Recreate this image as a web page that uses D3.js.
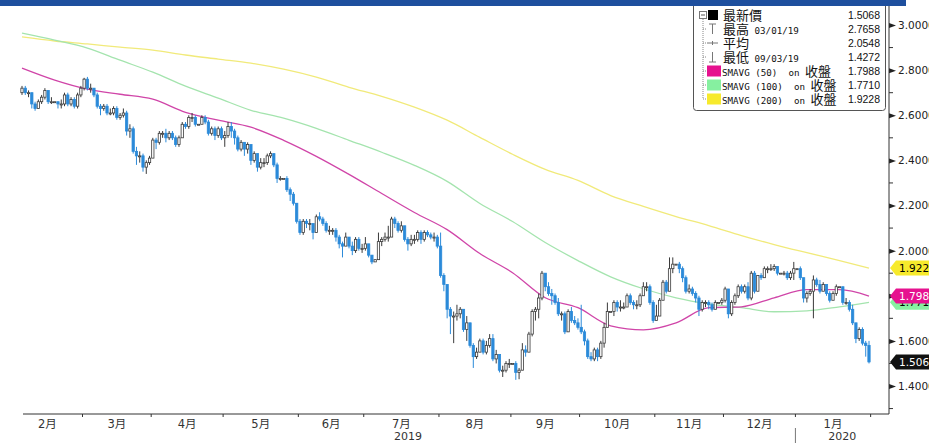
<!DOCTYPE html>
<html>
<head>
<meta charset="utf-8">
<script src="https://cdn.jsdelivr.net/npm/d3@7"></script>
<style>
    body { margin: 0; background: #fff; overflow: hidden; }
    svg { display: block; }
</style>
</head>
<body>
<svg id="chart" width="929" height="443"></svg>
<script>
// daily candles, one entry per weekday from 2019-02-04 to 2020-01-31 (Feb ... Jan, one line per month)
const open = [
    2.70,2.72,2.70,2.70,2.65,2.63,2.66,2.68,2.71,2.66,2.66,2.66,2.65,2.65,2.69,2.65,2.67,2.64,2.69,
    2.72,2.76,2.72,2.72,2.69,2.64,2.63,2.64,2.61,2.61,2.63,2.59,2.60,2.61,2.53,2.54,2.44,2.42,2.42,2.37,2.39,
    2.41,2.49,2.48,2.52,2.52,2.50,2.52,2.50,2.47,2.50,2.56,2.55,2.59,2.59,2.56,2.56,2.59,2.57,2.52,2.54,2.51,2.54,
    2.50,2.51,2.55,2.53,2.50,2.45,2.48,2.45,2.47,2.40,2.43,2.37,2.39,2.39,2.42,2.43,2.38,2.32,2.32,2.32,2.27,2.25,2.21,
    2.13,2.08,2.13,2.12,2.12,2.08,2.15,2.14,2.12,2.09,2.09,2.09,2.06,2.03,2.02,2.06,2.02,2.00,2.05,2.01,
    2.01,2.03,1.98,1.95,1.96,2.04,2.05,2.06,2.06,2.14,2.12,2.09,2.11,2.05,2.03,2.05,2.05,2.08,2.05,2.08,2.07,2.06,2.06,
    2.02,1.89,1.85,1.74,1.71,1.71,1.72,1.74,1.65,1.68,1.58,1.53,1.55,1.60,1.55,1.58,1.61,1.52,1.54,1.47,1.47,1.50,
    1.50,1.50,1.46,1.47,1.56,1.55,1.63,1.73,1.74,1.79,1.90,1.84,1.81,1.80,1.77,1.72,1.72,1.64,1.73,1.69,1.68,
    1.66,1.64,1.60,1.53,1.52,1.56,1.53,1.59,1.66,1.73,1.73,1.77,1.75,1.75,1.75,1.80,1.77,1.76,1.76,1.80,1.84,1.84,1.77,
    1.69,1.71,1.78,1.86,1.82,1.92,1.94,1.94,1.92,1.88,1.82,1.83,1.81,1.79,1.74,1.77,1.77,1.76,1.74,1.77,1.77,
    1.78,1.83,1.72,1.77,1.80,1.84,1.82,1.84,1.79,1.90,1.82,1.89,1.88,1.92,1.92,1.92,1.93,1.90,1.90,1.90,1.88,1.90,
    1.92,1.92,1.88,1.79,1.81,1.82,1.87,1.85,1.82,1.85,1.81,1.78,1.81,1.84,1.84,1.77,1.77,1.74,1.68,1.61,1.65,1.59,1.58
]
const high = [
    2.73,2.73,2.71,2.70,2.66,2.67,2.69,2.72,2.71,2.68,2.66,2.66,2.67,2.70,2.70,2.68,2.68,2.70,2.73,
    2.7658,2.77,2.74,2.72,2.70,2.65,2.65,2.65,2.63,2.64,2.64,2.61,2.63,2.62,2.56,2.55,2.46,2.44,2.43,2.40,2.42,
    2.50,2.50,2.53,2.53,2.54,2.53,2.53,2.51,2.51,2.57,2.57,2.60,2.61,2.60,2.56,2.60,2.60,2.58,2.55,2.55,2.55,2.55,
    2.53,2.57,2.57,2.54,2.51,2.49,2.48,2.48,2.47,2.44,2.43,2.41,2.41,2.43,2.44,2.43,2.39,2.33,2.32,2.33,2.28,2.26,2.21,
    2.14,2.14,2.14,2.14,2.12,2.16,2.17,2.15,2.13,2.11,2.10,2.10,2.07,2.04,2.08,2.06,2.04,2.06,2.06,2.03,
    2.06,2.03,1.98,1.96,2.08,2.06,2.08,2.11,2.15,2.15,2.13,2.13,2.11,2.06,2.07,2.07,2.09,2.09,2.09,2.09,2.08,2.08,2.07,
    2.08,1.90,1.85,1.75,1.73,1.76,1.75,1.74,1.71,1.68,1.59,1.57,1.61,1.61,1.60,1.63,1.63,1.56,1.54,1.49,1.51,1.52,
    1.50,1.51,1.48,1.59,1.58,1.64,1.74,1.75,1.81,1.91,1.90,1.86,1.83,1.81,1.79,1.73,1.73,1.74,1.75,1.71,1.70,
    1.76,1.65,1.61,1.55,1.57,1.57,1.60,1.68,1.77,1.73,1.78,1.78,1.78,1.77,1.81,1.81,1.78,1.78,1.81,1.86,1.86,1.85,1.78,
    1.76,1.79,1.87,1.87,1.97,1.97,1.94,1.95,1.93,1.89,1.85,1.84,1.82,1.80,1.78,1.78,1.78,1.77,1.78,1.77,1.79,
    1.84,1.83,1.78,1.81,1.85,1.85,1.85,1.86,1.91,1.91,1.89,1.90,1.93,1.93,1.94,1.94,1.93,1.90,1.91,1.91,1.91,1.95,
    1.92,1.93,1.88,1.82,1.83,1.89,1.88,1.87,1.86,1.85,1.82,1.82,1.85,1.84,1.84,1.79,1.78,1.76,1.68,1.66,1.66,1.60,1.60
]
const low = [
    2.69,2.69,2.68,2.63,2.62,2.63,2.65,2.67,2.65,2.65,2.66,2.63,2.63,2.64,2.64,2.64,2.63,2.63,2.68,
    2.71,2.71,2.70,2.68,2.63,2.60,2.62,2.60,2.60,2.60,2.58,2.58,2.59,2.51,2.50,2.43,2.38,2.39,2.35,2.34,2.38,
    2.41,2.45,2.47,2.50,2.48,2.49,2.49,2.46,2.46,2.50,2.54,2.54,2.57,2.55,2.56,2.56,2.56,2.51,2.51,2.49,2.50,2.49,
    2.46,2.50,2.50,2.47,2.44,2.44,2.42,2.43,2.38,2.39,2.35,2.36,2.37,2.38,2.41,2.37,2.30,2.31,2.32,2.26,2.22,2.20,2.12,
    2.07,2.07,2.10,2.09,2.05,2.08,2.13,2.11,2.08,2.07,2.07,2.04,2.01,1.97,2.02,2.01,1.98,1.99,2.00,1.99,
    2.00,1.97,1.94,1.95,1.96,2.02,2.04,2.04,2.06,2.10,2.08,2.08,2.04,2.00,2.02,2.03,2.04,2.03,2.04,2.06,2.05,2.04,2.01,
    1.88,1.82,1.70,1.63,1.59,1.69,1.70,1.64,1.60,1.57,1.48,1.52,1.55,1.54,1.54,1.57,1.51,1.50,1.46,1.44,1.46,1.48,
    1.50,1.4272,1.43,1.47,1.53,1.55,1.62,1.69,1.70,1.78,1.82,1.80,1.76,1.76,1.71,1.69,1.63,1.64,1.68,1.67,1.65,
    1.63,1.58,1.52,1.51,1.51,1.51,1.52,1.57,1.66,1.73,1.71,1.73,1.73,1.74,1.75,1.76,1.74,1.74,1.75,1.80,1.82,1.76,1.68,
    1.69,1.71,1.78,1.81,1.82,1.90,1.94,1.90,1.86,1.81,1.81,1.80,1.77,1.71,1.73,1.75,1.74,1.73,1.74,1.77,1.76,
    1.77,1.70,1.71,1.76,1.79,1.81,1.81,1.78,1.78,1.81,1.82,1.87,1.88,1.90,1.91,1.91,1.89,1.90,1.89,1.87,1.87,1.87,
    1.92,1.87,1.77,1.77,1.80,1.70,1.84,1.81,1.82,1.80,1.77,1.78,1.80,1.84,1.76,1.76,1.73,1.67,1.59,1.60,1.58,1.53,1.50
]
const close = [
    2.72,2.70,2.70,2.65,2.63,2.66,2.68,2.71,2.66,2.66,2.66,2.65,2.65,2.69,2.65,2.67,2.64,2.69,2.72,
    2.76,2.72,2.72,2.69,2.64,2.63,2.64,2.61,2.61,2.63,2.59,2.60,2.61,2.53,2.54,2.44,2.42,2.42,2.37,2.39,2.41,
    2.49,2.48,2.52,2.52,2.50,2.52,2.50,2.47,2.50,2.56,2.55,2.59,2.59,2.56,2.56,2.59,2.57,2.52,2.54,2.51,2.54,2.50,
    2.51,2.55,2.53,2.50,2.45,2.48,2.45,2.47,2.40,2.43,2.37,2.39,2.39,2.42,2.43,2.38,2.32,2.32,2.32,2.27,2.25,2.21,2.13,
    2.08,2.13,2.12,2.12,2.08,2.15,2.14,2.12,2.09,2.09,2.09,2.06,2.03,2.02,2.06,2.02,2.00,2.05,2.01,2.01,
    2.03,1.98,1.95,1.96,2.04,2.05,2.06,2.06,2.14,2.12,2.09,2.11,2.05,2.03,2.05,2.05,2.08,2.05,2.08,2.07,2.06,2.06,2.02,
    1.89,1.85,1.74,1.71,1.71,1.72,1.74,1.65,1.68,1.58,1.53,1.55,1.60,1.55,1.58,1.61,1.52,1.54,1.47,1.47,1.50,1.50,
    1.50,1.46,1.47,1.56,1.55,1.63,1.73,1.74,1.79,1.90,1.84,1.81,1.80,1.77,1.72,1.72,1.64,1.73,1.69,1.68,1.66,
    1.64,1.60,1.53,1.52,1.56,1.53,1.59,1.66,1.73,1.73,1.77,1.75,1.75,1.75,1.80,1.77,1.76,1.76,1.80,1.84,1.84,1.77,1.69,
    1.71,1.78,1.86,1.82,1.92,1.94,1.94,1.92,1.88,1.82,1.83,1.81,1.79,1.74,1.77,1.77,1.76,1.74,1.77,1.77,1.78,
    1.83,1.72,1.77,1.80,1.84,1.82,1.84,1.79,1.90,1.82,1.89,1.88,1.92,1.92,1.92,1.93,1.90,1.90,1.90,1.88,1.90,1.92,
    1.92,1.88,1.79,1.81,1.82,1.87,1.85,1.82,1.85,1.81,1.78,1.81,1.84,1.84,1.77,1.77,1.74,1.68,1.61,1.65,1.59,1.58,1.5068
]

const maIndex = [0,10,20,30,40,50,60,70,80,90,100,110,120,130,140,150,160,170,180,190,200,210,220,230,240,250,259]
const sma50 = [2.809,2.756,2.716,2.693,2.671,2.613,2.578,2.547,2.489,2.418,2.338,2.253,2.169,2.093,1.987,1.902,1.791,1.747,1.667,1.649,1.680,1.747,1.751,1.791,1.827,1.827,1.7988]
const sma100 = [2.964,2.933,2.898,2.844,2.791,2.729,2.676,2.622,2.587,2.542,2.489,2.436,2.378,2.307,2.209,2.129,2.036,1.956,1.884,1.831,1.791,1.764,1.747,1.729,1.733,1.751,1.7710]
const sma200 = [2.947,2.929,2.916,2.902,2.889,2.867,2.849,2.831,2.804,2.769,2.724,2.684,2.636,2.578,2.502,2.427,2.360,2.311,2.244,2.196,2.151,2.111,2.067,2.027,1.991,1.956,1.9228]

const yTicks = [1.4, 1.6, 1.8, 2.0, 2.2, 2.4, 2.6, 2.8, 3.0]
const yMinorTicks = [1.3, 1.5, 1.7, 1.9, 2.1, 2.3, 2.5, 2.7, 2.9]
const monthNames = ["2月","3月","4月","5月","6月","7月","8月","9月","10月","11月","12月","1月"]

const legendLabels = ["最新價", "最高 03/01/19", "平均", "最低 09/03/19",
    "SMAVG (50)  on 收盤", "SMAVG (100)  on 收盤", "SMAVG (200)  on 收盤"]
const legendValues = ["1.5068", "2.7658", "2.0548", "1.4272", "1.7988", "1.7710", "1.9228"]

// colours
const UP_STROKE = "#3a3a3a", DOWN_FILL = "#2b8ad9"
const MA_LINE = {sma50: "#d045a8", sma100: "#a4e4ae", sma200: "#f1ea7a"}
const MA_SWATCH = {sma50: "#e6128f", sma100: "#86f0a0", sma200: "#f7ea2c"}
const LATIN = "'DejaVu Sans', sans-serif"
const MONO = "'DejaVu Sans Mono', monospace"
const CJK = "'Noto Sans CJK TC', 'Noto Sans CJK SC', sans-serif"

const svg = d3.select("#chart")

// sessions: weekdays
const days = d3.timeDay.range(new Date(2019, 1, 4), new Date(2020, 1, 1)).filter(d => d.getDay() % 6 !== 0)

// scales
const x = d3.scaleLinear().domain([0, close.length - 1]).range([22, 869])
const step = x(1) - x(0)
const y = d3.scaleLinear().domain([1.4, 3.0]).range([386, 25])

const AXIS_X = 889, AXIS_Y = 414

svg.append("defs").append("clipPath").attr("id", "plot-clip")
    .append("rect").attr("x", 0).attr("y", 6).attr("width", AXIS_X).attr("height", AXIS_Y - 6)

const plot = svg.append("g").attr("clip-path", "url(#plot-clip)")

// moving averages
const maLine = d3.line().x((d, i) => x(maIndex[i])).y(d => y(d)).curve(d3.curveMonotoneX)
;[["sma200", sma200], ["sma100", sma100], ["sma50", sma50]].forEach(([k, vals]) => {
    plot.append("path").datum(vals)
        .attr("d", maLine)
        .attr("fill", "none")
        .attr("stroke", MA_LINE[k])
        .attr("stroke-width", 1.3)
})

// candles
const bw = 2.3
const candle = plot.selectAll("g.candle").data(d3.range(close.length)).join("g").attr("class", "candle")
candle.append("line")
    .attr("x1", i => x(i)).attr("x2", i => x(i))
    .attr("y1", i => y(high[i])).attr("y2", i => y(low[i]))
    .attr("stroke", i => close[i] >= open[i] ? UP_STROKE : DOWN_FILL)
    .attr("stroke-width", 1)
candle.append("rect")
    .attr("x", i => x(i) - bw / 2)
    .attr("y", i => y(Math.max(open[i], close[i])))
    .attr("width", bw)
    .attr("height", i => Math.max(1, Math.abs(y(open[i]) - y(close[i]))))
    .attr("fill", i => close[i] >= open[i] ? "#fff" : DOWN_FILL)
    .attr("stroke", i => close[i] >= open[i] ? UP_STROKE : DOWN_FILL)
    .attr("stroke-width", 0.8)

// right axis
const yAxis = d3.axisRight(y).tickValues(yTicks).tickFormat(d3.format(".4f")).tickSize(0).tickPadding(9)
const gy = svg.append("g").attr("transform", `translate(${AXIS_X},0)`).call(yAxis)
gy.select(".domain").remove()
gy.selectAll("text").attr("font-family", LATIN).attr("font-size", 10.5).attr("fill", "#222")
gy.selectAll(".tick").append("path").attr("d", "M0,-2.5L7,0L0,2.5Z").attr("fill", "#222")
svg.append("g").selectAll("line").data(yMinorTicks).join("line")
    .attr("x1", AXIS_X).attr("x2", AXIS_X + 4)
    .attr("y1", d => y(d)).attr("y2", d => y(d))
    .attr("stroke", "#333")
svg.append("line").attr("x1", AXIS_X).attr("x2", AXIS_X).attr("y1", 6).attr("y2", AXIS_Y)
    .attr("stroke", "#333")

// bottom axis
svg.append("line").attr("x1", 23).attr("x2", AXIS_X).attr("y1", AXIS_Y).attr("y2", AXIS_Y).attr("stroke", "#333")
const monthStarts = d3.range(days.length).filter(i => i === 0 || days[i].getMonth() !== days[i - 1].getMonth())
const bounds = monthStarts.map(i => x(i) - step / 2).concat([x(days.length - 1) + step / 2])
const gx = svg.append("g")
gx.selectAll("line").data(bounds.slice(1)).join("line")
    .attr("x1", d => d).attr("x2", d => d).attr("y1", AXIS_Y).attr("y2", AXIS_Y + 3)
    .attr("stroke", "#333")
gx.selectAll("text").data(monthNames).join("text")
    .attr("x", (d, k) => (bounds[k] + bounds[k + 1]) / 2 - (k === 0 ? 4 : 0))
    .attr("y", 428)
    .attr("text-anchor", "middle")
    .attr("font-family", LATIN + ", " + CJK).attr("font-size", 11.5).attr("fill", "#333")
    .text(d => d)

// years
const yearStart = monthStarts.find(i => days[i].getFullYear() === 2020)
const yearBound = x(yearStart) - step / 2
const years = [{label: "2019", x0: bounds[0], x1: yearBound}, {label: "2020", x0: yearBound, x1: AXIS_X}]
gx.append("line").attr("x1", yearBound).attr("x2", yearBound).attr("y1", 428).attr("y2", 443)
    .attr("stroke", "#777")
gx.selectAll("text.year").data(years).join("text").attr("class", "year")
    .attr("x", d => (d.x0 + d.x1) / 2).attr("y", 440)
    .attr("text-anchor", "middle")
    .attr("font-family", LATIN).attr("font-size", 11).attr("fill", "#333")
    .text(d => d.label)

// price tags on the right axis
const tags = [
    {v: sma100[sma100.length - 1], fill: MA_SWATCH.sma100, text: "#000"},
    {v: sma200[sma200.length - 1], fill: MA_SWATCH.sma200, text: "#000"},
    {v: sma50[sma50.length - 1], fill: MA_SWATCH.sma50, text: "#fff"},
    {v: close[close.length - 1], fill: "#111", text: "#fff"},
]
const tag = svg.append("g").selectAll("g").data(tags).join("g")
    .attr("transform", d => `translate(${AXIS_X + 1},${y(d.v)})`)
tag.append("path").attr("d", "M0,0L6,-7.5L45,-7.5L45,7.5L6,7.5Z").attr("fill", d => d.fill)
tag.append("text").attr("x", 9).attr("y", 4)
    .attr("font-family", LATIN).attr("font-size", 10.5).attr("fill", d => d.text)
    .text(d => d3.format(".4f")(d.v))

// legend
const lg = svg.append("g")
lg.append("rect").attr("x", 693.5).attr("y", -4).attr("width", 192).attr("height", 114.5)
    .attr("rx", 3).attr("fill", "#fff").attr("stroke", "#555")
const rowY = k => 15 + k * 14
lg.append("line").attr("x1", 703).attr("x2", 703).attr("y1", 19).attr("y2", rowY(6))
    .attr("stroke", "#888").attr("stroke-dasharray", "1,1")
lg.selectAll("line.branch").data(d3.range(1, 7)).join("line").attr("class", "branch")
    .attr("x1", 703).attr("x2", 707).attr("y1", rowY).attr("y2", rowY)
    .attr("stroke", "#888").attr("stroke-dasharray", "1,1")
lg.append("rect").attr("x", 699.5).attr("y", 11.5).attr("width", 7).attr("height", 7)
    .attr("fill", "#fff").attr("stroke", "#777")
lg.append("line").attr("x1", 701).attr("x2", 705).attr("y1", 15).attr("y2", 15).attr("stroke", "#555")

// markers
lg.append("rect").attr("x", 708).attr("y", rowY(0) - 5).attr("width", 10).attr("height", 10).attr("fill", "#000")
const mk = "#777"
lg.append("path").attr("d", `M709,${rowY(1) - 5}H716M712.5,${rowY(1) - 5}V${rowY(1) + 5}`).attr("stroke", mk).attr("fill", "none")
lg.append("path").attr("d", `M707,${rowY(2)}H718M712.5,${rowY(2) - 2}V${rowY(2) + 2}`).attr("stroke", mk).attr("fill", "none")
lg.append("path").attr("d", `M709,${rowY(3) + 5}H716M712.5,${rowY(3) - 5}V${rowY(3) + 5}`).attr("stroke", mk).attr("fill", "none")
;["sma50", "sma100", "sma200"].forEach((k, j) => {
    lg.append("rect").attr("x", 707).attr("y", rowY(4 + j) - 5.5).attr("width", 14).attr("height", 11)
        .attr("fill", MA_SWATCH[k])
})

// labels: CJK runs larger than latin runs
const lt = lg.selectAll("text.lab").data(legendLabels).join("text").attr("class", "lab")
    .attr("x", (d, k) => k < 4 ? 723 : 722).attr("y", (d, k) => rowY(k) + 4.5)
    .attr("fill", "#111").style("white-space", "pre")
lt.each(function(d) {
    const parts = d.match(/[\u3400-\u9fff]+|[^\u3400-\u9fff]+/g)
    const t = d3.select(this)
    parts.forEach(p => {
        const cjk = /[\u3400-\u9fff]/.test(p)
        t.append("tspan").text(p)
            .attr("font-family", cjk ? CJK : MONO)
            .attr("font-size", cjk ? 13 : 9.2)
    })
})
lg.selectAll("text.val").data(legendValues).join("text").attr("class", "val")
    .attr("x", 880).attr("y", (d, k) => rowY(k) + 4)
    .attr("text-anchor", "end")
    .attr("font-family", "'Liberation Sans', sans-serif").attr("font-size", 10.5).attr("fill", "#111")
    .text(d => d)

// top band
svg.append("rect").attr("x", 0).attr("y", 0).attr("width", 906).attr("height", 6).attr("fill", "#1e4f9e")
</script>
</body>
</html>
